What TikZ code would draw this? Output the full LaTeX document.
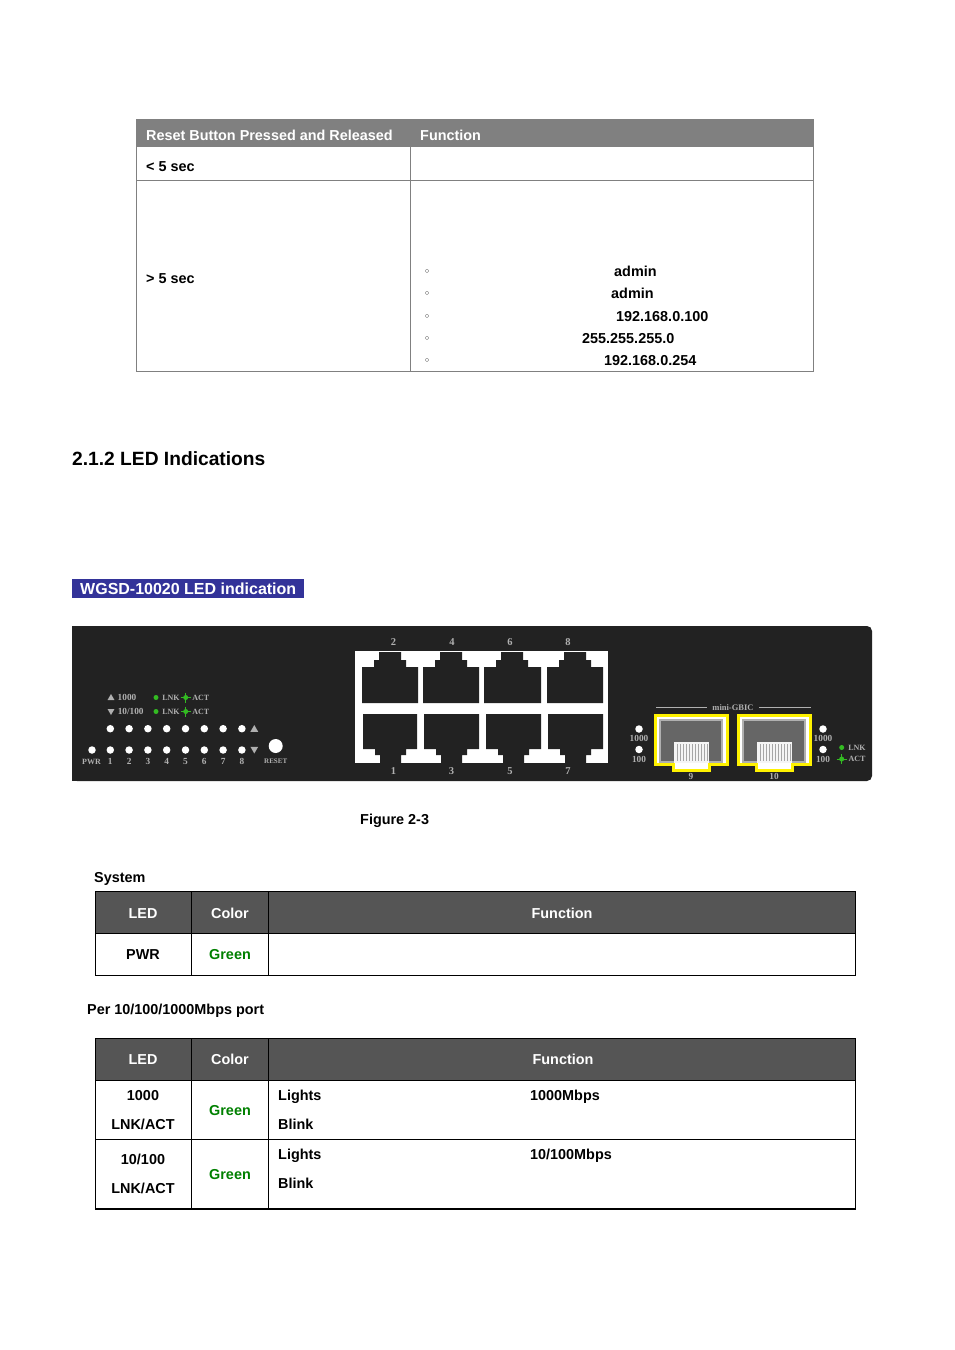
\documentclass[tikz,border=0pt]{standalone}
\usepackage{fontspec}
\setmainfont{Liberation Sans}
\newfontfamily\panelfont{Liberation Serif}
\newfontfamily\ringfont{DejaVu Sans}
\usetikzlibrary{shapes.geometric}
\definecolor{panelbg}{HTML}{222222}
\definecolor{headgray}{HTML}{808080}
\definecolor{headdark}{HTML}{555555}
\definecolor{barblue}{HTML}{333399}
\definecolor{ledgreen}{HTML}{33BB22}
\definecolor{textgreen}{HTML}{008000}
\definecolor{labelgray}{HTML}{B0B0B0}
\tikzset{txt/.style={
                     % The shape:
                     inner sep=0pt,anchor=base west,
                     % The rest
                     font=\fontsize{14.4}{16}\selectfont\bfseries,
                     },
         ctr/.style={txt,anchor=base},
         headtxt/.style={txt,text=white},
         headctr/.style={ctr,text=white},
         greentxt/.style={ctr,text=textgreen},
         graygrid/.style={draw=headgray,line width=1pt},
         blackgrid/.style={draw=black,line width=1pt},
         led/.style={circle,fill=white,inner sep=0pt,minimum size=7.5pt},
         greenled/.style={circle,fill=ledgreen,inner sep=0pt,minimum size=5pt},
         tiny/.style={inner sep=0pt,text=labelgray,font=\panelfont\fontsize{8}{9}\selectfont\bfseries},
         tinynum/.style={tiny,font=\panelfont\fontsize{9.3}{10}\selectfont\bfseries},
         portnum/.style={tiny,font=\panelfont\fontsize{10.5}{11}\selectfont\bfseries},
         tria/.style={regular polygon,regular polygon sides=3,fill=labelgray,inner sep=0pt,minimum size=9pt},
         sfp/.style={draw=yellow,line width=3pt,fill=white},
         }
\begin{document}
\begin{tikzpicture}[x=1pt,y=-1pt]
  \useasboundingbox (0,0) rectangle (954,1350);

  % Reset table
  \fill[headgray] (136,119) rectangle (814,147);
  \draw[graygrid] (136.5,147) -- (136.5,371.5) -- (813,371.5) -- (813,147);
  \draw[graygrid] (410.5,147) -- (410.5,371.5);
  \draw[graygrid] (136.5,180.5) -- (813,180.5);
  \node (resethead) [headtxt] at (146,140) {Reset Button Pressed and Released};
  \node (resetfunc) [headtxt] at (420,140) {Function};
  \node (short) [txt] at (146,171) {< 5 sec};
  \node (long) [txt] at (146,283) {> 5 sec};
  \foreach \y/\x/\val [count=\i] in {276/614/admin,298/611/admin,321/616/192.168.0.100,343/582/255.255.255.0,365/604/192.168.0.254}{
    \node (dot\i) [ctr,font=\ringfont\fontsize{11}{12}\selectfont] at (427,\y-1) {◦};
    \node (val\i) [txt] at (\x,\y) {\val};
  }

  % Heading and bar
  \node (heading) [txt,font=\fontsize{19.2}{22}\selectfont\bfseries] at (72,465) {2.1.2 LED Indications};
  \fill[barblue] (72,579) rectangle (304,598);
  \node (bar) [txt,text=white,font=\fontsize{16}{18}\selectfont\bfseries] at (80,594) {WGSD-10020 LED indication};

  % Front panel
  \fill[panelbg,rounded corners=5pt] (72,626) -- (872,626) -- (872,781) -- (72,781) -- cycle;
  \fill[panelbg] (72,626) rectangle (90,781);

  % RJ45 block
  \fill[white] (355,651) rectangle (608,763);
  \foreach \xa/\xb/\xn/\num [count=\i] in {362/418/393.5/2,423/479/452/4,484/541/510/6,547/603/568/8}{
    \fill[panelbg] (\xa,703) -- (\xa,667) -- (\xa+12,667) -- (\xa+12,660) -- (\xa+17,660) -- (\xa+17,652)
      -- (\xa+39,652) -- (\xa+39,660) -- (\xa+44,660) -- (\xa+44,667) -- (\xb,667) -- (\xb,703) -- cycle;
    \node (top\i) [portnum] at (\xn,642.5) {\num};
  }
  \foreach \xa/\xb/\xn/\num [count=\i] in {363/417/393.5/1,424/479/451.5/3,486/541/510/5,548/603/568/7}{
    \fill[panelbg] (\xa,714) -- (\xb,714) -- (\xb,749) -- (\xa+43,749) -- (\xa+43,755) -- (\xa+38,755) -- (\xa+38,763)
      -- (\xa+17,763) -- (\xa+17,755) -- (\xa+12,755) -- (\xa+12,749) -- (\xa,749) -- cycle;
    \node (bot\i) [portnum] at (\xn,771.5) {\num};
  }

  % Left LEDs
  \node (pwr) [led] at (92,750) {};
  \node (pwrlabel) [tiny] at (91.5,761.5) {PWR};
  \foreach \i in {1,...,8}{
    \node (up\i) [led] at (110.3+18.8*\i-18.8,728.7) {};
    \node (dn\i) [led] at (110.3+18.8*\i-18.8,750) {};
    \node (num\i) [tinynum] at (110.3+18.8*\i-18.8,761.5) {\i};
  }
  \node (upmark) [tria] at (254.3,729.5) {};
  \node (dnmark) [tria,shape border rotate=180] at (254.3,749) {};
  \node (reset) [led,minimum size=14pt] at (275.7,746) {};
  \node (resetlabel) [tiny,font=\panelfont\fontsize{7}{9}\selectfont\bfseries] at (275.7,761.5) {RESET};

  % Legend
  \node (legup) [tria,minimum size=8pt] at (111,698) {};
  \node (legdn) [tria,minimum size=8pt,shape border rotate=180] at (111,711) {};
  \node (leg1000) [tinynum] at (127,697.5) {1000};
  \node (leg100) [tinynum] at (130.7,711.5) {10/100};
  \foreach \y/\n in {697.5/a,711.5/b}{
    \node (lnk\n) [greenled] at (156,\y) {};
    \node (lnktxt\n) [tiny] at (171,\y) {LNK};
    \node (act\n) [greenled] at (185.7,\y) {};
    \draw[ledgreen,line width=.8pt] (act\n.center) ++(-5,0) -- ++(10,0) (act\n.center) ++(0,-5) -- ++(0,10);
    \node (acttxt\n) [tiny] at (200.7,\y) {ACT};
  }

  % Mini-GBIC slots
  \node (gbic) [tiny,font=\panelfont\fontsize{8.5}{9}\selectfont\bfseries] at (733,707.5) {mini-GBIC};
  \draw[labelgray,line width=.7pt] (656,707.5) -- (707,707.5);
  \draw[labelgray,line width=.7pt] (759,707.5) -- (811,707.5);
  \foreach \xa/\num in {654/9,737/10}{
    \draw[sfp] (\xa+1,715) -- (\xa+73.5,715) -- (\xa+73.5,764.5) -- (\xa+55,764.5) -- (\xa+55,770) -- (\xa+19,770) -- (\xa+19,764.5) -- (\xa+1,764.5) -- cycle;
    \fill[headdark!90!white,draw=labelgray,line width=1.5pt] (\xa+6,720) rectangle (\xa+68,762);
    \fill[white!92!gray] (\xa+20,742) rectangle (\xa+55,763);
    \foreach \s in {3,6,...,33}
      \draw[gray!70,line width=.5pt] (\xa+20+\s,744) -- (\xa+20+\s,761);
    \node (sfp\num) [tinynum] at (\xa+37,776.5) {\num};
  }

  % Right LEDs
  \foreach \x/\n in {639/l,823/r}{
    \node (hi\n) [led] at (\x,729) {};
    \node (hitxt\n) [tinynum] at (\x,738) {1000};
    \node (lo\n) [led] at (\x,749.5) {};
    \node (lotxt\n) [tinynum] at (\x,759.5) {100};
  }
  \node (lnkc) [greenled] at (841.7,747.5) {};
  \node (lnktxtc) [tiny] at (857,748) {LNK};
  \node (actc) [greenled] at (841.7,759) {};
  \draw[ledgreen,line width=.8pt] (actc.center) ++(-5,0) -- ++(10,0) (actc.center) ++(0,-5) -- ++(0,10);
  \node (acttxtc) [tiny] at (857,759) {ACT};

  \node (figure) [txt] at (360,824) {Figure 2-3};

  % System table
  \node (system) [txt] at (94,882) {System};
  \fill[headdark] (95.5,892) rectangle (856,933.5);
  \draw[blackgrid] (95.5,891.5) rectangle (855.5,975.5);
  \draw[blackgrid] (95.5,933.5) -- (855.5,933.5);
  \draw[blackgrid] (191.5,891.5) -- (191.5,975.5);
  \draw[blackgrid] (268.5,891.5) -- (268.5,975.5);
  \node (sysled) [headctr] at (143,918) {LED};
  \node (syscolor) [headctr] at (230,918) {Color};
  \node (sysfunc) [headctr] at (562,918) {Function};
  \node (syspwr) [ctr] at (143,959) {PWR};
  \node (sysgreen) [greentxt] at (230,959) {Green};

  % Port table
  \node (pertitle) [txt] at (87,1014) {Per 10/100/1000Mbps port};
  \fill[headdark] (95.5,1038.5) rectangle (856,1080.5);
  \draw[blackgrid] (95.5,1038.5) rectangle (855.5,1209);
  \draw[blackgrid] (95.5,1080.5) -- (855.5,1080.5);
  \draw[blackgrid] (95.5,1139.5) -- (855.5,1139.5);
  \draw[blackgrid] (191.5,1038.5) -- (191.5,1209);
  \draw[blackgrid] (268.5,1038.5) -- (268.5,1209);
  \draw[black,line width=2pt] (95,1209) -- (856,1209);
  \node (portled) [headctr] at (143,1064) {LED};
  \node (portcolor) [headctr] at (230,1064) {Color};
  \node (portfunc) [headctr] at (563,1064) {Function};
  \node (gled) [ctr] at (143,1100) {1000};
  \node (glnk) [ctr] at (143,1129) {LNK/ACT};
  \node (ggreen) [greentxt] at (230,1115) {Green};
  \node (glights) [txt] at (278,1100) {Lights};
  \node (gspeed) [txt] at (530,1100) {1000Mbps};
  \node (gblink) [txt] at (278,1129) {Blink};
  \node (fled) [ctr] at (143,1164) {10/100};
  \node (flnk) [ctr] at (143,1193) {LNK/ACT};
  \node (fgreen) [greentxt] at (230,1179) {Green};
  \node (flights) [txt] at (278,1159) {Lights};
  \node (fspeed) [txt] at (530,1159) {10/100Mbps};
  \node (fblink) [txt] at (278,1188) {Blink};
\end{tikzpicture}
\end{document}
